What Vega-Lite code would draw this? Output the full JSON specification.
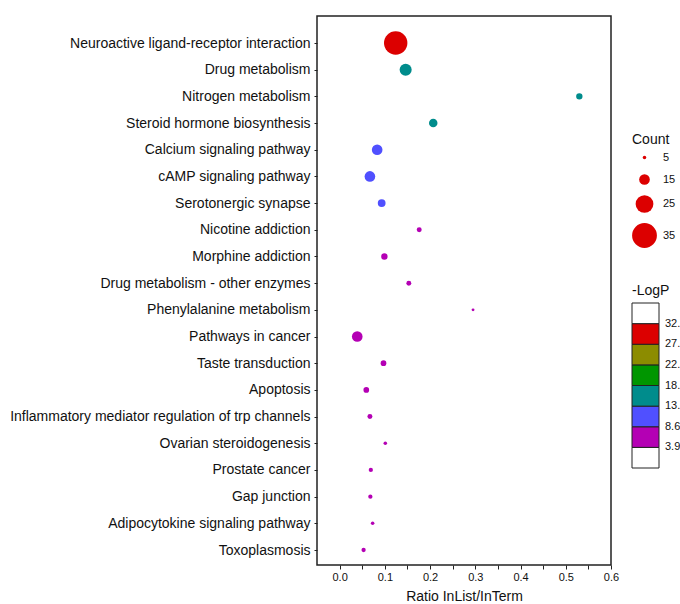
{
  "$schema": "https://vega.github.io/schema/vega-lite/v6.json",
  "width": 294,
  "height": 549,
  "autosize": {"type": "none"},
  "padding": {"left": 317, "top": 16, "right": 69, "bottom": 39},
  "background": "white",
  "config": {
    "font": "Liberation Sans",
    "view": {"stroke": "#222222", "strokeWidth": 1.5},
    "axis": {"labelColor": "#111111", "titleColor": "#111111", "tickColor": "#222222", "grid": false, "domain": false},
    "legend": {"labelColor": "#111111", "titleColor": "#111111"}
  },
  "data": {
    "values": [
      {"pathway": "Neuroactive ligand-receptor interaction", "ratio": 0.124, "count": 33, "logp": 30.5},
      {"pathway": "Drug metabolism", "ratio": 0.146, "count": 17, "logp": 16.2},
      {"pathway": "Nitrogen metabolism", "ratio": 0.530, "count": 9, "logp": 14.1},
      {"pathway": "Steroid hormone biosynthesis", "ratio": 0.207, "count": 12, "logp": 15.0},
      {"pathway": "Calcium signaling pathway", "ratio": 0.083, "count": 15, "logp": 11.2},
      {"pathway": "cAMP signaling pathway", "ratio": 0.067, "count": 15, "logp": 10.4},
      {"pathway": "Serotonergic synapse", "ratio": 0.093, "count": 11, "logp": 9.1},
      {"pathway": "Nicotine addiction", "ratio": 0.176, "count": 7, "logp": 7.9},
      {"pathway": "Morphine addiction", "ratio": 0.099, "count": 9, "logp": 7.2},
      {"pathway": "Drug metabolism - other enzymes", "ratio": 0.153, "count": 7, "logp": 6.8},
      {"pathway": "Phenylalanine metabolism", "ratio": 0.295, "count": 4, "logp": 6.1},
      {"pathway": "Pathways in cancer", "ratio": 0.039, "count": 15, "logp": 5.9},
      {"pathway": "Taste transduction", "ratio": 0.097, "count": 8, "logp": 5.6},
      {"pathway": "Apoptosis", "ratio": 0.059, "count": 8, "logp": 5.2},
      {"pathway": "Inflammatory mediator regulation of trp channels", "ratio": 0.067, "count": 7, "logp": 5.0},
      {"pathway": "Ovarian steroidogenesis", "ratio": 0.101, "count": 5, "logp": 4.8},
      {"pathway": "Prostate cancer", "ratio": 0.069, "count": 6, "logp": 4.6},
      {"pathway": "Gap junction", "ratio": 0.068, "count": 6, "logp": 4.4},
      {"pathway": "Adipocytokine signaling pathway", "ratio": 0.073, "count": 5, "logp": 4.2},
      {"pathway": "Toxoplasmosis", "ratio": 0.053, "count": 6, "logp": 4.0}
    ]
  },
  "mark": {"type": "point", "filled": true, "shape": "circle", "opacity": 1, "strokeWidth": 0},
  "encoding": {
    "x": {
      "field": "ratio",
      "type": "quantitative",
      "scale": {"domain": [-0.05, 0.6], "nice": false, "zero": false},
      "axis": {
        "title": "Ratio InList/InTerm",
        "values": [0, 0.05, 0.1, 0.15, 0.2, 0.25, 0.3, 0.35, 0.4, 0.45, 0.5, 0.55, 0.6],
        "labelExpr": "round(datum.value * 100) % 10 == 0 ? format(datum.value, '.1f') : ''",
        "tickSize": 4,
        "labelFontSize": 11,
        "labelPadding": 2,
        "titleFontSize": 14,
        "titleFontWeight": "normal",
        "titlePadding": 7,
        "labelFlush": false,
        "labelOverlap": false
      }
    },
    "y": {
      "field": "pathway",
      "type": "nominal",
      "sort": null,
      "scale": {"type": "point", "padding": 0, "range": [27, 534]},
      "axis": {
        "title": null,
        "tickSize": 3,
        "labelPadding": 4,
        "labelFontSize": 14,
        "labelLimit": 400
      }
    },
    "size": {
      "field": "count",
      "type": "quantitative",
      "scale": {"type": "pow", "exponent": 2, "domain": [0, 35], "range": [0, 616]},
      "legend": {
        "title": "Count",
        "values": [5, 15, 25, 35],
        "orient": "none",
        "legendX": 315,
        "legendY": 117,
        "titleFontSize": 14,
        "titleFontWeight": "normal",
        "labelFontSize": 11,
        "symbolFillColor": "#DC0000",
        "symbolStrokeWidth": 0,
        "symbolOpacity": 1,
        "rowPadding": 10,
        "labelOffset": 6
      }
    },
    "color": {
      "field": "logp",
      "type": "quantitative",
      "scale": {
        "type": "threshold",
        "domain": [3.9, 8.6, 13.3, 18.0, 22.7, 27.4, 32.1],
        "range": ["#FFFFFF", "#B400B4", "#5050FF", "#008C8C", "#009600", "#8C8C00", "#DC0000", "#FFFFFF"]
      },
      "legend": {
        "type": "gradient",
        "title": "-LogP",
        "orient": "none",
        "legendX": 315,
        "legendY": 268,
        "format": ".1f",
        "gradientLength": 165,
        "gradientThickness": 27,
        "gradientStrokeColor": "#222222",
        "gradientStrokeWidth": 1,
        "titleFontSize": 14,
        "titleFontWeight": "normal",
        "labelFontSize": 11,
        "labelOffset": 6
      }
    }
  }
}
